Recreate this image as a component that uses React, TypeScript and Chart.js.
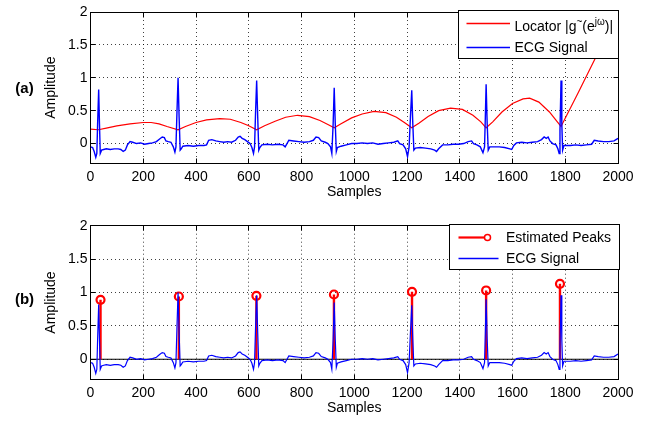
import React, { useEffect, useRef } from 'react';
import { Chart, registerables } from 'chart.js';

Chart.register(...registerables);

const FONT = "'Liberation Sans', Arial, Helvetica, sans-serif";

// ---------- axis ticks ----------
const xTicks = [0, 200, 400, 600, 800, 1000, 1200, 1400, 1600, 1800, 2000];
const xTickLabels = ['0', '200', '400', '600', '800', '1000', '1200', '1400', '1600', '1800', '2000'];
const yTicks = [0, 0.5, 1, 1.5, 2];
const yTickLabels = ['0', '0.5', '1', '1.5', '2'];

// ---------- ECG signal (samples, amplitude) ----------
const ecgX = [
  0, 8, 14, 20, 24, 27, 31, 34, 37, 42, 50, 60, 75, 90, 105, 115, 124, 132, 140, 150,
  160, 175, 190, 205, 220, 235, 250, 262, 272, 280, 286, 295, 305, 314, 320, 324, 328, 332, 336, 340,
  344, 350, 370, 390, 410, 430, 440, 448, 460, 475, 490, 505, 520, 535, 550, 560, 567, 575, 585, 595,
  605, 612, 618, 622, 626, 630, 634, 638, 642, 650, 670, 690, 710, 730, 738, 745, 752, 770, 790, 810,
  830, 845, 855, 865, 875, 890, 900, 910, 915, 920, 924, 928, 932, 936, 950, 970, 990, 1010, 1030, 1050,
  1070, 1090, 1110, 1130, 1150, 1165, 1172, 1185, 1195, 1202, 1208, 1213, 1218, 1222, 1226, 1232, 1250, 1270, 1290, 1305,
  1312, 1320, 1335, 1355, 1375, 1395, 1415, 1432, 1445, 1452, 1465, 1478, 1488, 1494, 1497, 1500, 1504, 1508, 1514, 1530,
  1550, 1570, 1590, 1597, 1605, 1615, 1635, 1655, 1675, 1695, 1710, 1720, 1728, 1735, 1742, 1752, 1765, 1772, 1777, 1780,
  1784, 1787, 1790, 1795, 1820, 1840, 1860, 1880, 1900, 1910, 1925, 1945, 1965, 1985, 2000,
];
const ecgY = [
  -0.05, -0.06, -0.12, -0.21, -0.15, 0.3, 0.82, 0.3, -0.15, -0.1, -0.09, -0.08, -0.09, -0.08, -0.08, -0.09, -0.12, -0.1, -0.02, 0.03,
  0.02, 0.0, 0.01, -0.01, 0.0, 0.01, 0.03, 0.07, 0.1, 0.09, 0.04, 0.03, 0.02, -0.05, -0.13, -0.05, 0.5, 1.0, 0.4, -0.1,
  -0.08, -0.04, -0.03, -0.04, -0.03, -0.03, -0.02, 0.05, 0.06, 0.04, 0.03, 0.02, 0.03, 0.02, 0.05, 0.1, 0.11, 0.08, 0.06, 0.03,
  0.0, -0.06, -0.15, -0.05, 0.5, 0.96, 0.4, -0.1, -0.06, -0.02, -0.01, -0.02, -0.01, -0.02, -0.05, 0.0, 0.05, 0.04, 0.03, 0.02,
  0.03, 0.05, 0.1, 0.09, 0.04, 0.02, 0.0, -0.05, -0.15, 0.3, 0.85, 0.3, -0.12, -0.06, -0.04, -0.02, 0.0, 0.0, 0.01, 0.0,
  0.01, -0.01, 0.0, 0.01, 0.02, 0.04, 0.0, -0.02, -0.08, -0.2, -0.05, 0.4, 0.81, 0.3, -0.1, -0.07, -0.06, -0.07, -0.08, -0.1,
  -0.12, -0.08, -0.02, -0.02, -0.01, -0.01, 0.0, 0.03, 0.04, 0.0, -0.02, -0.05, -0.14, -0.05, 0.4, 0.9, 0.3, -0.1, -0.05, -0.05,
  -0.05, -0.06, -0.08, -0.09, -0.03, 0.01, 0.02, 0.01, 0.02, 0.03, 0.06, 0.1, 0.08, 0.1, 0.04, 0.0, -0.02, -0.08, -0.15, 0.2,
  0.96, 0.3, -0.1, -0.03, -0.03, -0.02, -0.03, -0.02, -0.01, 0.05, 0.04, 0.03, 0.03, 0.04, 0.08,
];

// ---------- Locator |g~(e^jw)| ----------
const locX = [
  0, 30, 60, 100, 150, 200, 230, 260, 290, 332,
  360, 400, 440, 490, 530, 570, 600, 630,
  660, 700, 740, 785, 830, 870, 900, 924,
  950, 990, 1030, 1075, 1120, 1160, 1190, 1218,
  1245, 1280, 1320, 1365, 1410, 1450, 1480, 1500,
  1525, 1560, 1600, 1640, 1665, 1700, 1740, 1770, 1784,
  1850, 1913, 2000,
];
const locY = [
  0.22, 0.21, 0.235, 0.27, 0.3, 0.32, 0.32, 0.3, 0.26, 0.21,
  0.26, 0.32, 0.36, 0.38, 0.37, 0.32, 0.27, 0.21,
  0.27, 0.34, 0.4, 0.43, 0.41, 0.35, 0.29, 0.24,
  0.3, 0.39, 0.45, 0.49, 0.47, 0.4, 0.32, 0.24,
  0.31, 0.41, 0.5, 0.54, 0.52, 0.43, 0.33, 0.24,
  0.33, 0.48, 0.61, 0.68, 0.69, 0.63, 0.48, 0.33, 0.26,
  0.78, 1.29, 2.0,
];

// ---------- Estimated peaks ----------
const peakX = [38, 335, 629, 923, 1219, 1500, 1780];
const peakY = [0.89, 0.94, 0.95, 0.97, 1.01, 1.03, 1.13];

const ecgData = () => ecgX.map((x, i) => ({ x, y: ecgY[i] }));

type LegendRow = { kind: 'line' | 'stem'; color: string; parts: { t: string; sup?: boolean }[] };

function makePlugin(panel: string, legend: { x0: number; x1: number; y0: number; y1: number; lineX0: number; lineX1: number; textX: number; rows: { lineY: number; textY: number; lineEnd?: number; row: LegendRow }[] }) {
  return {
    id: 'frame' + panel,
    afterDatasetsDraw(chart: any) {
      const { ctx, chartArea: a, scales } = chart;
      const al = (v: number) => Math.floor(v) + 0.5;
      const L = al(a.left), R = al(a.right), T = al(a.top), B = al(a.bottom);
      ctx.save();
      ctx.setLineDash([]);
      ctx.strokeStyle = '#000';
      ctx.lineWidth = 1;
      ctx.strokeRect(L, T, R - L, B - T);
      const tl = 5;
      ctx.beginPath();
      xTicks.forEach((v) => {
        const px = al(scales.x.getPixelForValue(v));
        ctx.moveTo(px, B); ctx.lineTo(px, B - tl);
        ctx.moveTo(px, T); ctx.lineTo(px, T + tl);
      });
      yTicks.forEach((v) => {
        const py = al(scales.y.getPixelForValue(v));
        ctx.moveTo(L, py); ctx.lineTo(L + tl, py);
        ctx.moveTo(R, py); ctx.lineTo(R - tl, py);
      });
      ctx.stroke();
      ctx.restore();
    },
    afterDraw(chart: any) {
      const { ctx } = chart;
      ctx.save();
      ctx.setLineDash([]);
      ctx.fillStyle = '#fff';
      ctx.fillRect(legend.x0, legend.y0, legend.x1 - legend.x0, legend.y1 - legend.y0);
      ctx.strokeStyle = '#000';
      ctx.lineWidth = 1;
      ctx.strokeRect(legend.x0, legend.y0, legend.x1 - legend.x0, legend.y1 - legend.y0);
      legend.rows.forEach(({ lineY, textY, lineEnd, row }) => {
        ctx.strokeStyle = row.color;
        if (row.kind === 'stem') {
          ctx.lineWidth = 2.2;
          ctx.beginPath();
          ctx.moveTo(legend.lineX0, lineY);
          ctx.lineTo(legend.lineX1 - 3, lineY);
          ctx.stroke();
          ctx.lineWidth = 1.5;
          ctx.beginPath();
          ctx.arc(legend.lineX1, lineY, 3, 0, Math.PI * 2);
          ctx.stroke();
        } else {
          ctx.lineWidth = 1.4;
          ctx.beginPath();
          ctx.moveTo(legend.lineX0, lineY);
          ctx.lineTo(lineEnd ?? legend.lineX1, lineY);
          ctx.stroke();
        }
        ctx.fillStyle = '#000';
        ctx.textBaseline = 'middle';
        ctx.textAlign = 'left';
        let cx = legend.textX;
        row.parts.forEach((p) => {
          ctx.font = p.sup ? `10px ${FONT}` : `14px ${FONT}`;
          ctx.fillText(p.t, cx, textY + (p.sup ? -5 : 0));
          cx += ctx.measureText(p.t).width;
        });
      });
      ctx.font = `bold 15px ${FONT}`;
      ctx.fillStyle = '#000';
      ctx.textAlign = 'center';
      ctx.textBaseline = 'middle';
      ctx.fillText(panel, 24.5, 88.5);
      ctx.restore();
    },
  };
}

function scalesFor(xHeight: number, titlePadB: number) {
  return {
    x: {
      type: 'linear',
      min: 0,
      max: 2000,
      afterBuildTicks: (s: any) => { s.ticks = xTicks.map((v) => ({ value: v })); },
      afterFit: (s: any) => { s.height = xHeight; },
      ticks: {
        autoSkip: false,
        maxRotation: 0,
        minRotation: 0,
        padding: 5,
        color: '#000',
        font: { family: FONT, size: 14 },
        callback: (v: number) => xTickLabels[xTicks.indexOf(v)] ?? '',
      },
      grid: { color: 'rgba(0,0,0,0.75)', lineWidth: 1, drawTicks: false },
      border: { display: false, dash: [1, 3] },
      title: { display: true, text: 'Samples', color: '#000', font: { family: FONT, size: 14 }, padding: { top: 0, bottom: titlePadB } },
    },
    y: {
      type: 'linear',
      min: -0.3,
      max: 2,
      afterBuildTicks: (s: any) => { s.ticks = yTicks.map((v) => ({ value: v })); },
      afterFit: (s: any) => { s.width = 90.5; },
      ticks: {
        autoSkip: false,
        padding: 3,
        color: '#000',
        font: { family: FONT, size: 14 },
        callback: (v: number) => yTickLabels[yTicks.indexOf(v)] ?? '',
      },
      grid: { color: 'rgba(0,0,0,0.75)', lineWidth: 1, drawTicks: false },
      border: { display: false, dash: [1, 3] },
      title: { display: true, text: 'Amplitude', color: '#000', font: { family: FONT, size: 14 }, padding: { top: 43, bottom: 0 } },
    },
  };
}

export default function App() {
  const topRef = useRef<HTMLCanvasElement>(null);
  const botRef = useRef<HTMLCanvasElement>(null);

  useEffect(() => {
    const common = {
      responsive: false,
      maintainAspectRatio: false,
      animation: false,
      events: [],
      plugins: { legend: { display: false }, tooltip: { enabled: false } },
      elements: { line: { tension: 0 }, point: { radius: 0 } },
    };

    const topChart = new Chart(topRef.current as HTMLCanvasElement, {
      type: 'line',
      data: {
        datasets: [
          { label: 'ECG Signal', data: ecgData(), borderColor: '#0000ff', borderWidth: 1.4, pointRadius: 0, fill: false },
          { label: 'Locator', data: locX.map((x, i) => ({ x, y: locY[i] })), borderColor: '#ff0000', borderWidth: 1.2, pointRadius: 0, fill: false },
        ],
      },
      options: {
        ...common,
        layout: { padding: { left: 0, right: 39, top: 12, bottom: 0 } },
        scales: scalesFor(47.7, 10),
      } as any,
      plugins: [
        makePlugin('(a)', {
          x0: 458.5, x1: 618.5, y0: 10.5, y1: 58.5,
          lineX0: 466.5, lineX1: 510, textX: 514.5,
          rows: [
            { lineY: 23.5, textY: 27.5, row: { kind: 'line', color: '#ff0000', parts: [{ t: 'Locator |g' }, { t: '~', sup: true }, { t: '(e' }, { t: 'jω', sup: true }, { t: ')|' }] } },
            { lineY: 47.5, textY: 48, row: { kind: 'line', color: '#0000ff', parts: [{ t: 'ECG Signal' }] } },
          ],
        }),
      ],
    } as any);

    const stemData: { x: number; y: number | null }[] = [];
    peakX.forEach((x, i) => {
      stemData.push({ x, y: 0 }, { x, y: peakY[i] }, { x, y: null });
    });

    const botChart = new Chart(botRef.current as HTMLCanvasElement, {
      type: 'line',
      data: {
        datasets: [
          { label: 'ECG Signal', data: ecgData(), borderColor: '#0000ff', borderWidth: 1.2, pointRadius: 0, fill: false },
          { label: 'Peaks', data: peakX.map((x, i) => ({ x, y: peakY[i] })), showLine: false, pointRadius: 4, pointBorderWidth: 2.2, pointBorderColor: '#ff0000', pointBackgroundColor: 'rgba(0,0,0,0)', borderColor: '#ff0000' },
          { label: 'Stems', data: stemData, borderColor: '#ff0000', borderWidth: 2.4, pointRadius: 0, spanGaps: false, fill: false },
          { label: 'Baseline', data: [{ x: 0, y: 0 }, { x: 2000, y: 0 }], borderColor: '#000', borderWidth: 1, pointRadius: 0, fill: false },
        ],
      },
      options: {
        ...common,
        layout: { padding: { left: 0, right: 39, top: 14.7, bottom: 0 } },
        scales: scalesFor(43.7, 6),
      } as any,
      plugins: [
        makePlugin('(b)', {
          x0: 449.5, x1: 619.5, y0: 13.5, y1: 58.5,
          lineX0: 458.5, lineX1: 487.5, textX: 506,
          rows: [
            { lineY: 26.5, textY: 27.5, row: { kind: 'stem', color: '#ff0000', parts: [{ t: 'Estimated Peaks' }] } },
            { lineY: 47.5, textY: 48.5, lineEnd: 498.5, row: { kind: 'line', color: '#0000ff', parts: [{ t: 'ECG Signal' }] } },
          ],
        }),
      ],
    } as any);

    return () => {
      topChart.destroy();
      botChart.destroy();
    };
  }, []);

  return (
    <div style={{ position: 'absolute', left: 0, top: 0, width: 657, height: 423, background: '#fff' }}>
      <canvas ref={topRef} width={657} height={211} style={{ position: 'absolute', left: 0, top: 0 }} />
      <canvas ref={botRef} width={657} height={212} style={{ position: 'absolute', left: 0, top: 211 }} />
    </div>
  );
}
